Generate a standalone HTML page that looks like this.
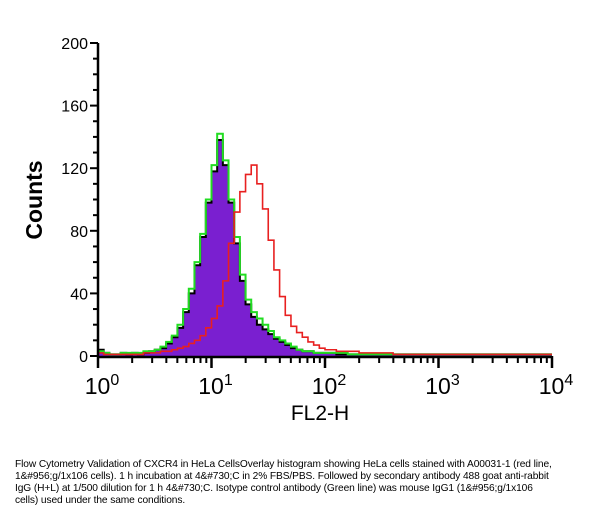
<!DOCTYPE html>
<html><head><meta charset="utf-8"><style>
body{margin:0;background:#fff;width:600px;height:514px;overflow:hidden;font-family:"Liberation Sans",sans-serif}
#cap{position:absolute;left:15px;top:459px;width:585px;font-size:10.2px;line-height:12px;color:#000;white-space:nowrap;letter-spacing:-0.1px}
</style></head><body>
<svg id="chart" width="600" height="455" style="position:absolute;left:0;top:0">
<g id="marks"></g><g id="axes"></g>
<text transform="translate(42,200) rotate(-90)" text-anchor="middle" font-size="23" font-weight="bold">Counts</text>
<text x="320" y="420" text-anchor="middle" font-size="21">FL2-H</text>
</svg>
<div id="cap">Flow Cytometry Validation of CXCR4 in HeLa CellsOverlay histogram showing HeLa cells stained with A00031-1 (red line,<br>1&amp;#956;g/1x106 cells). 1 h incubation at 4&amp;#730;C in 2% FBS/PBS. Followed by secondary antibody 488 goat anti-rabbit<br>IgG (H+L) at 1/500 dilution for 1 h 4&amp;#730;C. Isotype control antibody (Green line) was mouse IgG1 (1&amp;#956;g/1x106<br>cells) used under the same conditions.</div>
<script>
const logBins=[0,0.05,0.1,0.15,0.2,0.25,0.3,0.35,0.4,0.45,0.5,0.55,0.6,0.65,0.7,0.75,0.8,0.85,0.9,0.95,1.0,1.05,1.1,1.15,1.2,1.25,1.3,1.35,1.4,1.45,1.5,1.55,1.6,1.65,1.7,1.75,1.8,1.85,1.9,1.95,2.0,2.1,2.2,2.3,2.4,2.5,2.6,2.8,3.0,3.2,3.4,3.6,3.8,4.0];
const isotype=[4,2,1,1,2,1,2,1,2,3,4,5,8,12,18,28,40,58,76,98,118,138,122,98,72,48,33,25,20,17,14,11,9,7,5,4,3,3,2,2,2,1,1,1,1,1,1,1,1,1,1,1,1,1];
const green=[3,2,1,1,2,2,2,2,3,3,4,6,9,13,20,30,43,60,78,100,122,142,125,100,76,52,36,28,24,20,16,12,10,8,6,4,3,3,2,2,2,2,1,1,1,1,1,1,1,1,1,1,1,1];
const red=[2,1,1,1,1,1,1,1,2,2,2,3,3,4,5,6,8,10,13,18,24,32,48,72,92,105,116,122,110,94,74,55,38,26,19,15,12,9,7,5,4,3,3,2,2,2,1,1,1,1,1,1,1,1];
const yTicks=[0,40,80,120,160,200];
const xTicks=[0,1,2,3,4];
const NS="http://www.w3.org/2000/svg";
const X0=98,X1=552,Y0=356,Y1=43;
const xs=v=>X0+(X1-X0)*v/4, ys=v=>Y0-(Y0-Y1)*v/200;
function mk(t,a,p){const e=document.createElementNS(NS,t);for(const k in a)e.setAttribute(k,a[k]);p.appendChild(e);return e;}
function stepPts(vals){let p=[];for(let i=0;i<logBins.length;i++){const a=logBins[i],b=i<logBins.length-1?logBins[i+1]:4;p.push(xs(a)+","+ys(vals[i]),xs(b)+","+ys(vals[i]));}return p;}
const m=document.getElementById('marks');
let ip=stepPts(isotype);
const fill=mk('polygon',{points:xs(0)+","+Y0+" "+ip.join(" ")+" "+xs(4)+","+Y0,fill:'#7a1fd0',stroke:'none'},m);


const bl=mk('polyline',{points:ip.join(" "),fill:'none',stroke:'#000','stroke-width':2},m);


const gl=mk('polyline',{points:stepPts(green).join(" "),fill:'none',stroke:'#22dd22','stroke-width':2},m);


const rl=mk('polyline',{points:stepPts(red).join(" "),fill:'none',stroke:'#e82020','stroke-width':1.6},m);


const ax=document.getElementById('axes');
const yl=mk('line',{x1:X0,y1:Y1,x2:X0,y2:Y0+1,stroke:'#000','stroke-width':2.5},ax);


const xl=mk('line',{x1:X0-1,y1:Y0+1,x2:X1,y2:Y0+1,stroke:'#000','stroke-width':2.5},ax);


for(let v=0;v<=200;v+=10){const major=v%40===0;mk('line',{x1:X0-(major?8:5),y1:ys(v),x2:X0,y2:ys(v),stroke:'#000','stroke-width':2},ax);}
yTicks.forEach(v=>{const t=mk('text',{x:X0-10,y:ys(v)+6,'text-anchor':'end','font-size':16},ax);t.textContent=v;

});
for(let d=0;d<4;d++)for(let k=2;k<=9;k++){const x=xs(d+Math.log10(k));mk('line',{x1:x,y1:Y0,x2:x,y2:Y0+7,stroke:'#000','stroke-width':2},ax);}
xTicks.forEach(v=>{mk('line',{x1:xs(v),y1:Y0,x2:xs(v),y2:Y0+12,stroke:'#000','stroke-width':2.5},ax);
const t=mk('text',{x:xs(v)+4,y:394,'text-anchor':'middle','font-size':23},ax);t.innerHTML='10<tspan dy="-9" font-size="16">'+v+'</tspan>';

});
</script>
</body></html>
